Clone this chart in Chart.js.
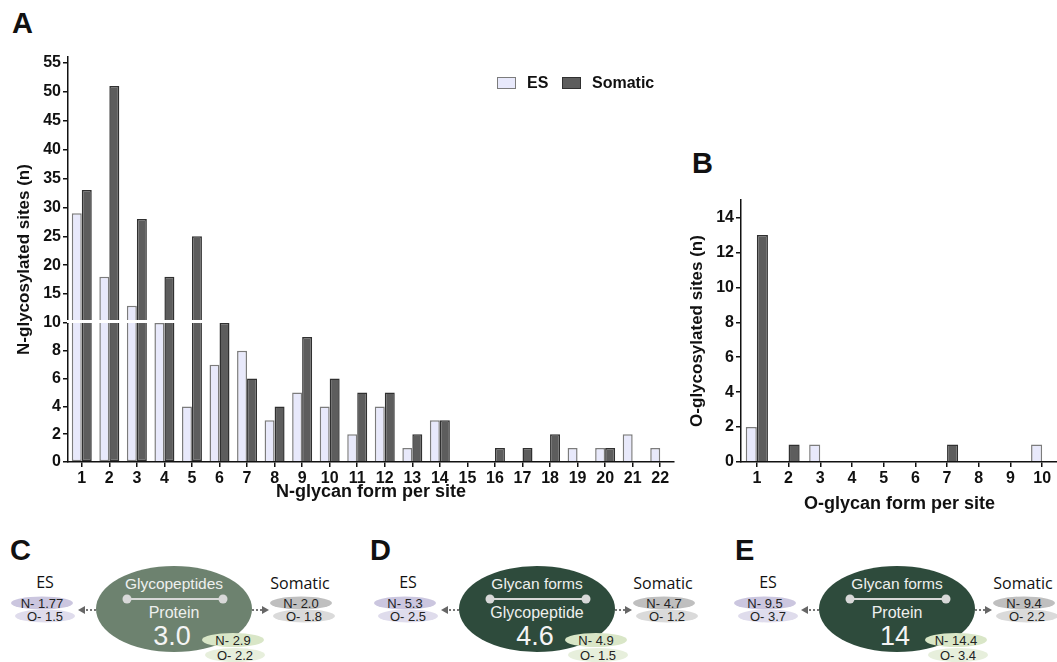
<!DOCTYPE html>
<html lang="en">
<head>
<meta charset="UTF-8">
<title>N- e O-glicosilação</title>
<script src="https://cdn.jsdelivr.net/npm/chart.js@4"></script>
<style>
    body { margin: 0; width: 1057px; height: 662px; overflow: hidden; background: #fff; position: relative;
           font-family: "Liberation Sans", Arial, sans-serif; color: #111; }
    canvas { position: absolute; }
    .letra { position: absolute; font-weight: bold; font-size: 29px; line-height: 1; }
    .c { position: absolute; transform: translate(-50%, -50%); white-space: nowrap; line-height: 1; }
    .pilula { position: absolute; transform: translate(-50%, -50%); border-radius: 50%; font-size: 13px; color: #222;
              display: flex; align-items: center; justify-content: center; white-space: nowrap; line-height: 1; }
    .legenda { position: absolute; font-weight: bold; font-size: 16px; line-height: 1; }
    .quadro { position: absolute; width: 17px; height: 10px; }
</style>
</head>
<body>
    <div class="letra" style="left:12px; top:9px">A</div>
    <div class="letra" style="left:692px; top:149px">B</div>
    <canvas id="graficoN" width="690" height="520" style="left:0; top:0"></canvas>
    <canvas id="graficoO" width="378" height="380" style="left:680px; top:140px"></canvas>
    <div id="legenda"></div>

<script>
    // painel A - formas de N-glicano por sitio
    const formasN = ['1', '2', '3', '4', '5', '6', '7', '8', '9', '10', '11', '12', '13', '14', '15', '16', '17', '18', '19', '20', '21', '22'];
    const nES = [29, 18, 13, 10, 4, 7, 8, 3, 5, 4, 2, 4, 1, 3, 0, 0, 0, 0, 1, 1, 2, 1];
    const nSomatic = [33, 51, 28, 18, 25, 10, 6, 4, 9, 6, 5, 5, 2, 3, 0, 1, 1, 2, 0, 1, 0, 0];
    const ticksAlto = [15, 20, 25, 30, 35, 40, 45, 50, 55];
    const ticksBaixo = [0, 2, 4, 6, 8, 10];
    const quebra = 10;

    // painel B - formas de O-glicano por sitio
    const formasO = ['1', '2', '3', '4', '5', '6', '7', '8', '9', '10'];
    const oES = [2, 0, 1, 0, 0, 0, 0, 0, 0, 1];
    const oSomatic = [13, 1, 0, 0, 0, 0, 1, 0, 0, 0];
    const ticksO = [0, 2, 4, 6, 8, 10, 12, 14];

    // paineis C, D, E
    const paineis = ['C', 'D', 'E'];
    const textoCima = ['Glycopeptides', 'Glycan forms', 'Glycan forms'];
    const textoBaixo = ['Protein', 'Glycopeptide', 'Protein'];
    const totais = ['3.0', '4.6', '14'];
    const totalN = ['2.9', '4.9', '14.4'];
    const totalO = ['2.2', '1.5', '3.4'];
    const esN = ['1.77', '5.3', '9.5'];
    const esO = ['1.5', '2.5', '3.7'];
    const somN = ['2.0', '4.7', '9.4'];
    const somO = ['1.8', '1.2', '2.2'];

    const series = ['ES', 'Somatic'];
    const corES = '#e8e9fb', bordaES = '#7c7c7c';
    const corSom = '#5d5d5d', bordaSom = '#303030';

    const familia = '"Liberation Sans", Arial, sans-serif';
    const fonteTick = { family: familia, size: 16, weight: 'bold' };
    const fonteTitulo = { family: familia, size: 18, weight: 'bold' };
    const fonteTituloY = { family: familia, size: 17, weight: 'bold' };

    const soPositivo = v => v > 0 ? v : null;

    function estiloBarra(es) {
        return {
            backgroundColor: es ? corES : corSom,
            borderColor: es ? bordaES : bordaSom,
            borderWidth: 1.5,
            barPercentage: 1
        };
    }

    function eixoX(titulo, pad) {
        return {
            offset: true,
            grid: { display: true, offset: false, drawOnChartArea: false, drawTicks: true, tickLength: 5, color: '#111', lineWidth: 1.5 },
            border: { display: true, color: '#111', width: 1.5, z: 1 },
            ticks: { font: fonteTick, color: '#111', padding: 2, maxRotation: 0, autoSkip: false },
            title: { display: true, text: titulo, font: fonteTitulo, color: '#111', padding: { top: 0, bottom: pad } },
            afterFit: s => { s.height = 58; }
        };
    }

    function eixoY(extra, lista, largura) {
        return Object.assign({
            position: 'left',
            afterBuildTicks: s => { s.ticks = lista.map(v => ({ value: v })); },
            grid: { drawOnChartArea: false, drawTicks: true, tickLength: 5, color: '#111', lineWidth: 1.5 },
            border: { display: true, color: '#111', width: 1.5 },
            ticks: { font: fonteTick, color: '#111', padding: 2, autoSkip: false },
            afterFit: s => { s.width = largura; }
        }, extra);
    }

    // faixa branca da quebra do eixo
    const quebraPlugin = {
        id: 'quebra',
        afterDraw(chart) {
            const y = chart.scales.yBaixo.top;
            const area = chart.chartArea;
            const ctx = chart.ctx;
            ctx.save();
            ctx.fillStyle = '#fff';
            ctx.fillRect(area.left - 1, y - 3, area.right - area.left + 1, 3);
            ctx.restore();
        }
    };

    new Chart(document.getElementById('graficoN'), {
        type: 'bar',
        data: {
            labels: formasN,
            datasets: [
                Object.assign({ label: series[0], data: nES.map(v => soPositivo(Math.min(v, quebra))), yAxisID: 'yBaixo', stack: 'es',
                    categoryPercentage: 0.725, borderSkipped: c => nES[c.dataIndex] > quebra ? 'end' : 'start' }, estiloBarra(true)),
                Object.assign({ label: series[1], data: nSomatic.map(v => soPositivo(Math.min(v, quebra))), yAxisID: 'yBaixo', stack: 'som',
                    categoryPercentage: 0.725, borderSkipped: c => nSomatic[c.dataIndex] > quebra ? 'end' : 'start' }, estiloBarra(false)),
                Object.assign({ label: series[0], data: nES.map(v => v > quebra ? v : null), yAxisID: 'yAlto', stack: 'es',
                    categoryPercentage: 0.725, base: quebra }, estiloBarra(true)),
                Object.assign({ label: series[1], data: nSomatic.map(v => v > quebra ? v : null), yAxisID: 'yAlto', stack: 'som',
                    categoryPercentage: 0.725, base: quebra }, estiloBarra(false))
            ]
        },
        options: {
            responsive: false,
            animation: false,
            layout: { padding: { top: 57, right: 16, left: 0, bottom: 0 } },
            plugins: { legend: { display: false }, tooltip: { enabled: false } },
            scales: {
                x: eixoX('N-glycan form per site', 17),
                yBaixo: eixoY({ stack: 'n', stackWeight: 139, min: 0, max: quebra }, ticksBaixo, 32),
                yAlto: eixoY({ stack: 'n', stackWeight: 266, min: quebra, max: 56 }, ticksAlto, 32),
                yTitulo: {
                    type: 'linear',
                    position: 'left',
                    grid: { display: false },
                    border: { display: false },
                    ticks: { display: false },
                    title: { display: true, text: 'N-glycosylated sites (n)', font: fonteTituloY, color: '#111', padding: { top: 14, bottom: 0 } },
                    afterFit: s => { s.width = 36; }
                }
            }
        },
        plugins: [quebraPlugin]
    });

    const eixoO = eixoY({ min: 0, max: 15 }, ticksO, 61);
    eixoO.title = { display: true, text: 'O-glycosylated sites (n)', font: fonteTituloY, color: '#111', padding: { top: 7, bottom: 0 } };

    new Chart(document.getElementById('graficoO'), {
        type: 'bar',
        data: {
            labels: formasO,
            datasets: [
                Object.assign({ label: series[0], data: oES.map(soPositivo), categoryPercentage: 0.7 }, estiloBarra(true)),
                Object.assign({ label: series[1], data: oSomatic.map(soPositivo), categoryPercentage: 0.7 }, estiloBarra(false))
            ]
        },
        options: {
            responsive: false,
            animation: false,
            layout: { padding: { top: 60, right: 0, left: 0, bottom: 0 } },
            plugins: { legend: { display: false }, tooltip: { enabled: false } },
            scales: {
                x: eixoX('O-glycan form per site', 5),
                y: eixoO
            }
        }
    });

    function caixa(classe, css, texto) {
        const d = document.createElement('div');
        d.className = classe;
        Object.assign(d.style, css);
        if (texto) d.textContent = texto;
        document.body.appendChild(d);
        return d;
    }

    // legenda
    caixa('quadro', { left: '497px', top: '77px', background: corES, border: '1.5px solid ' + bordaES });
    caixa('legenda', { left: '527px', top: '75px' }, series[0]);
    caixa('quadro', { left: '562px', top: '77px', background: corSom, border: '1.5px solid ' + bordaSom });
    caixa('legenda', { left: '592px', top: '75px' }, series[1]);

    // diagramas C, D, E
    const centros = [174, 537, 897];
    const letras = [10, 370, 735];
    const corElipse = ['#6d826f', '#2e4b3c', '#2e4b3c'];
    const px = v => v + 'px';

    paineis.forEach((p, i) => {
        const cx = centros[i];
        caixa('letra', { left: px(letras[i]), top: '536px' }, p);

        caixa('c', { left: px(cx - 129), top: '582px', fontFamily: '"Open Sans", sans-serif', fontSize: '16px' }, 'ES');
        caixa('pilula', { left: px(cx - 132), top: '603px', width: '62px', height: '13px', background: '#cbc6df' }, 'N- ' + esN[i]);
        caixa('pilula', { left: px(cx - 129), top: '616px', width: '60px', height: '13px', background: '#dfdcec' }, 'O- ' + esO[i]);

        caixa('c', { left: px(cx + 126), top: '583px', fontFamily: '"Open Sans", sans-serif', fontSize: '16px' }, 'Somatic');
        caixa('pilula', { left: px(cx + 127), top: '603px', width: '62px', height: '13px', background: '#bfbfbf' }, 'N- ' + somN[i]);
        caixa('pilula', { left: px(cx + 130), top: '616px', width: '62px', height: '13px', background: '#dadada' }, 'O- ' + somO[i]);

        // setas pontilhadas
        caixa('', { position: 'absolute', left: px(cx - 96), top: '606px', width: 0, height: 0,
            borderRight: '7px solid #666', borderTop: '4px solid transparent', borderBottom: '4px solid transparent' });
        caixa('', { position: 'absolute', left: px(cx - 88), top: '609px', width: '10px', borderTop: '2px dotted #777' });
        caixa('', { position: 'absolute', left: px(cx + 78), top: '609px', width: '10px', borderTop: '2px dotted #777' });
        caixa('', { position: 'absolute', left: px(cx + 88), top: '606px', width: 0, height: 0,
            borderLeft: '7px solid #666', borderTop: '4px solid transparent', borderBottom: '4px solid transparent' });

        caixa('c', { left: px(cx), top: '609px', width: '156px', height: '86px', borderRadius: '50%', background: corElipse[i] });
        caixa('c', { left: px(cx), top: '584px', fontSize: '15.5px', color: '#eef0ee' }, textoCima[i]);
        caixa('', { position: 'absolute', left: px(cx - 47), top: '598px', width: '96px', height: '2px', background: '#d8d8d8' });
        caixa('c', { left: px(cx - 47), top: '599px', width: '9px', height: '9px', borderRadius: '50%', background: '#d8d8d8' });
        caixa('c', { left: px(cx + 49), top: '599px', width: '9px', height: '9px', borderRadius: '50%', background: '#d8d8d8' });
        caixa('c', { left: px(cx), top: '613px', fontSize: '16px', color: '#eef0ee' }, textoBaixo[i]);
        caixa('c', { left: px(cx - 2), top: '636px', fontSize: '27px', color: '#f4f4f4' }, totais[i]);

        caixa('pilula', { left: px(cx + 59), top: '640px', width: '62px', height: '14px', background: '#d9e6c7' }, 'N- ' + totalN[i]);
        caixa('pilula', { left: px(cx + 61), top: '655px', width: '60px', height: '14px', background: '#e7efdc' }, 'O- ' + totalO[i]);
    });
</script>
</body>
</html>
